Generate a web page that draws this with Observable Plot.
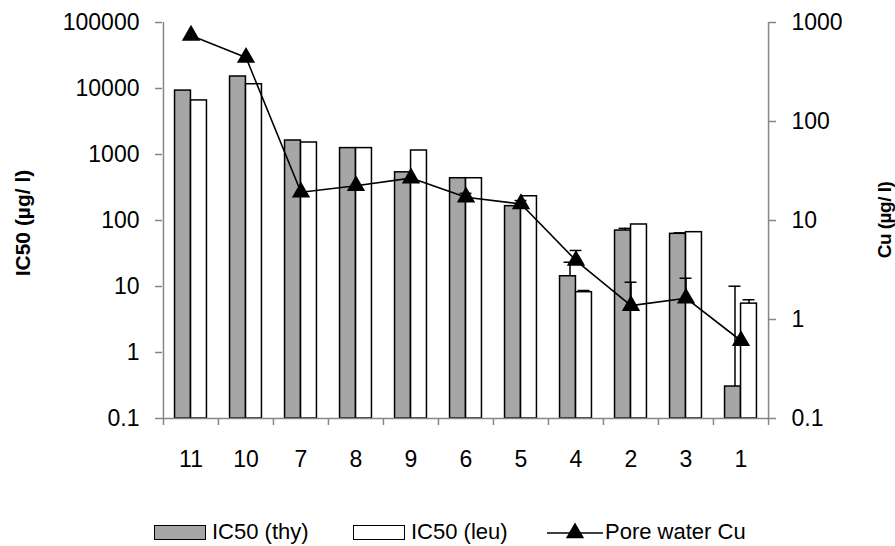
<!DOCTYPE html>
<html><head><meta charset="utf-8">
<script src="https://cdn.jsdelivr.net/npm/d3@7"></script>
<script src="https://cdn.jsdelivr.net/npm/@observablehq/plot@0.6"></script>
<style>
body{margin:0;background:#fff;font-family:"Liberation Sans",Arial,sans-serif;}
#wrap{position:relative;width:895px;height:546px;overflow:hidden;background:#fff}
.title{position:absolute;font-weight:bold;white-space:nowrap;color:#000;transform-origin:center center}
.leg{position:absolute;top:518px;height:28px;display:flex;align-items:center;font-size:22px;color:#000;white-space:nowrap}
.sw{display:inline-block;width:52px;height:15px;border:1.5px solid #000;box-sizing:border-box;margin-right:6px}
</style></head><body>
<div id="wrap"><div id="chart"></div><div id="legend"></div></div>
<script>
// ---- data ----
const categories = ["11","10","7","8","9","6","5","4","2","3","1"];
const ic50Thy = [9300, 15200, 1630, 1250, 537, 437, 165, 14.3, 70.5, 62.8, 0.305];
const ic50Leu = [6600, 11600, 1520, 1250, 1150, 437, 233, 8.2, 87, 66.5, 5.5];
const poreCu  = [740, 443, 19.3, 22.4, 26.8, 17.2, 14.7, 3.94, 1.38, 1.64, 0.61];
const thyUpper = [null, null, null, null, null, null, null, 23.3, 76, 65, 10.1];
const leuUpper = [null, null, null, null, null, null, null, 8.7, null, null, 6.3];
const cuUpper  = [null, null, null, null, null, 18.8, 15.9, 4.98, 2.38, 2.61, null];
const leftTicks = [0.1, 1, 10, 100, 1000, 10000, 100000];
const leftTickLabels = ["0.1","1","10","100","1000","10000","100000"];
const rightTicks = [0.1, 1, 10, 100, 1000];
const rightTickLabels = ["0.1","1","10","100","1000"];

// ---- layout ----
const W = 895, H = 508, mL = 162, mR = 127, mT = 22, mB = 90;
const bw = (W - mL - mR) / categories.length;
const barW = 16;
const grey = "#a6a6a6", axisGrey = "#868686";

// right axis (0.1–1000) mapped onto left axis (0.1–100000)
const toLeft = v => Math.pow(10, 1.5 * Math.log10(v) + 0.5);

const rows = categories.map((c, i) => ({
  cat: c, thy: ic50Thy[i], leu: ic50Leu[i], cu: poreCu[i],
  thyUp: thyUpper[i], leuUp: leuUpper[i], cuUp: cuUpper[i]
}));
const rightRows = rightTicks.map((t, i) => ({v: toLeft(t), label: rightTickLabels[i]}));

const chart = Plot.plot({
  width: W, height: H,
  marginLeft: mL, marginRight: mR, marginTop: mT, marginBottom: mB,
  style: {fontFamily: "'Liberation Sans', Arial, sans-serif", fontSize: "23px", color: "#000", background: "#fff"},
  x: {type: "band", domain: categories, padding: 0},
  y: {type: "log", domain: [0.1, 100000]},
  marks: [
    Plot.barY(rows, {x: "cat", y1: 0.1, y2: "thy", fill: grey, stroke: "#000", strokeWidth: 1.5,
      insetLeft: bw / 2 - barW, insetRight: bw / 2}),
    Plot.barY(rows, {x: "cat", y1: 0.1, y2: "leu", fill: "#fff", stroke: "#000", strokeWidth: 1.5,
      insetLeft: bw / 2, insetRight: bw / 2 - barW}),
    // error bars on bars
    Plot.ruleX(rows.filter(d => d.thyUp != null), {x: "cat", y1: "thy", y2: "thyUp", dx: -6, stroke: "#000", strokeWidth: 1.5}),
    Plot.tickY(rows.filter(d => d.thyUp != null), {x: "cat", y: "thyUp", stroke: "#000", strokeWidth: 1.5,
      insetLeft: bw / 2 - 6 - 6, insetRight: bw / 2 + 6 - 6}),
    Plot.ruleX(rows.filter(d => d.leuUp != null), {x: "cat", y1: "leu", y2: "leuUp", dx: 8, stroke: "#000", strokeWidth: 1.5}),
    Plot.tickY(rows.filter(d => d.leuUp != null), {x: "cat", y: "leuUp", stroke: "#000", strokeWidth: 1.5,
      insetLeft: bw / 2 + 8 - 6, insetRight: bw / 2 - 8 - 6}),
    // pore water Cu
    Plot.line(rows, {x: "cat", y: d => toLeft(d.cu), stroke: "#000", strokeWidth: 1.6}),
    Plot.ruleX(rows.filter(d => d.cuUp != null), {x: "cat", y1: d => toLeft(d.cu), y2: d => toLeft(d.cuUp), stroke: "#000", strokeWidth: 1.5}),
    Plot.tickY(rows.filter(d => d.cuUp != null), {x: "cat", y: d => toLeft(d.cuUp), stroke: "#000", strokeWidth: 1.5,
      insetLeft: bw / 2 - 6, insetRight: bw / 2 - 6}),
    Plot.dot(rows, {x: "cat", y: d => toLeft(d.cu), symbol: "triangle", r: 6.8, fill: "#000", stroke: "none"}),
    // axis lines
    Plot.ruleY([0.1], {stroke: axisGrey, strokeWidth: 1.5}),
    Plot.ruleX([categories[0]], {x: d => d, dx: -bw / 2, stroke: axisGrey, strokeWidth: 1.5}),
    Plot.ruleX([categories[categories.length - 1]], {x: d => d, dx: bw / 2, stroke: axisGrey, strokeWidth: 1.5}),
    // x ticks at category boundaries
    Plot.ruleX(categories, {x: d => d, dx: -bw / 2, insetTop: H - mT - mB, insetBottom: -7, stroke: axisGrey, strokeWidth: 1.5}),
    Plot.ruleX([categories[categories.length - 1]], {x: d => d, dx: bw / 2, insetTop: H - mT - mB, insetBottom: -7, stroke: axisGrey, strokeWidth: 1.5}),
    Plot.axisX({tickSize: 0, tickPadding: 32, fill: "#000", label: null}),
    Plot.axisY({anchor: "left", ticks: leftTicks, tickFormat: d => leftTickLabels[leftTicks.findIndex(t => Math.abs(t - d) / d < 1e-6)],
      tickSize: 7, tickPadding: 16, stroke: axisGrey, strokeWidth: 1.5, fill: "#000", label: null}),
    // right axis: ticks + labels
    Plot.axisY({anchor: "right", ticks: rightRows.map(d => d.v), tickFormat: () => "",
      tickSize: 7, stroke: axisGrey, strokeWidth: 1.5, label: null}),
    Plot.text(rightRows, {y: "v", text: "label", frameAnchor: "right", dx: 23, textAnchor: "start", fill: "#000", fontSize: 23})
  ]
});
document.getElementById("chart").appendChild(chart);

// axis titles
const wrap = document.getElementById("wrap");
function title(text, cx, cy, size, spacing) {
  const t = document.createElement("div");
  t.className = "title";
  t.style.fontSize = size + "px";
  t.style.letterSpacing = spacing + "px";
  t.textContent = text;
  wrap.appendChild(t);
  const r = t.getBoundingClientRect();
  t.style.left = (cx - r.width / 2) + "px";
  t.style.top = (cy - r.height / 2) + "px";
  t.style.transform = "rotate(-90deg)";
}
title("IC50 (µg/ l)", 23, 223, 21, 0);
title("Cu (µg/ l)", 885, 220, 19, -0.5);

// legend
const legendItems = [
  {label: "IC50 (thy)", kind: "bar", fill: grey, left: 154},
  {label: "IC50 (leu)", kind: "bar", fill: "#fff", left: 353},
  {label: "Pore water Cu", kind: "line", left: 547}
];
const lg = document.getElementById("legend");
legendItems.forEach(it => {
  const d = document.createElement("div");
  d.className = "leg";
  d.style.left = it.left + "px";
  if (it.kind === "bar") {
    const s = document.createElement("span");
    s.className = "sw";
    s.style.background = it.fill;
    d.appendChild(s);
  } else {
    const ns = "http://www.w3.org/2000/svg";
    const svg = document.createElementNS(ns, "svg");
    svg.setAttribute("width", 56); svg.setAttribute("height", 20);
    svg.style.marginRight = "2px";
    const l = document.createElementNS(ns, "line");
    l.setAttribute("x1", 0); l.setAttribute("x2", 56); l.setAttribute("y1", 11); l.setAttribute("y2", 11);
    l.setAttribute("stroke", "#000"); l.setAttribute("stroke-width", 1.6);
    const p = document.createElementNS(ns, "path");
    p.setAttribute("d", d3.symbol(d3.symbolTriangle, Math.PI * 6.8 * 6.8)());
    p.setAttribute("transform", "translate(28,11)");
    p.setAttribute("fill", "#000");
    svg.appendChild(l); svg.appendChild(p);
    d.appendChild(svg);
  }
  const t = document.createElement("span");
  t.textContent = it.label;
  d.appendChild(t);
  lg.appendChild(d);
});
</script>
</body></html>
